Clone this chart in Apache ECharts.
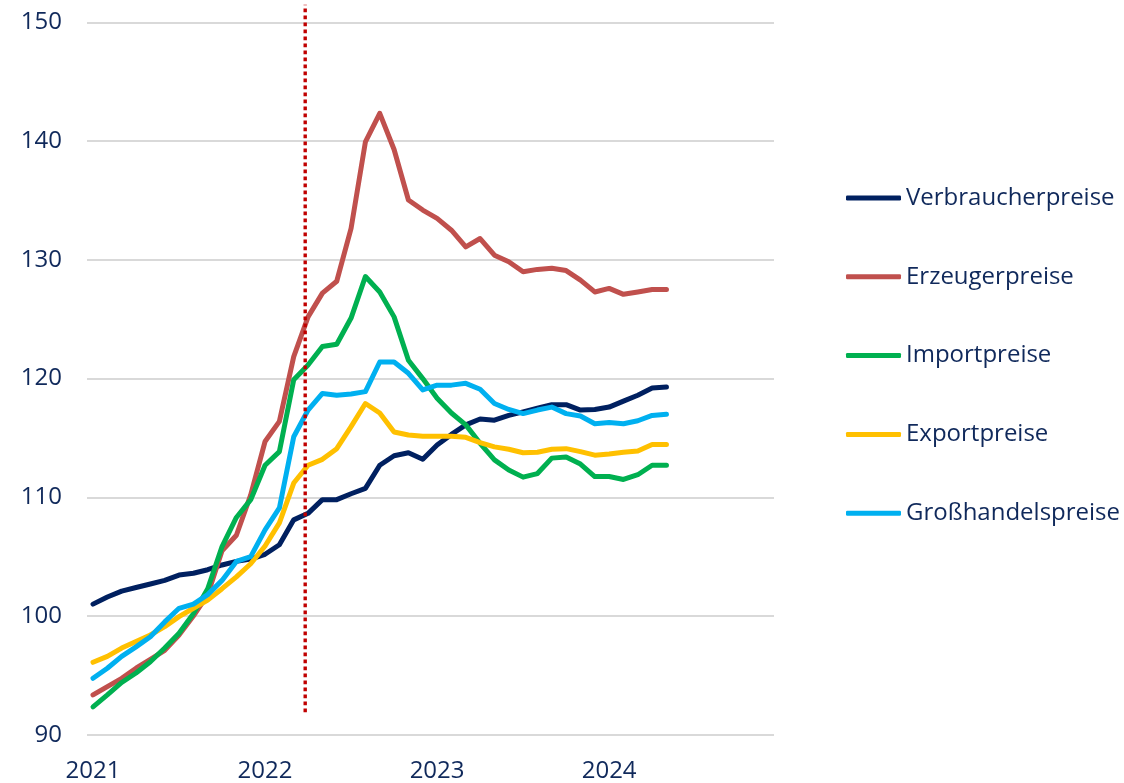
<!DOCTYPE html>
<html>
<head>
<meta charset="utf-8">
<script src="https://cdn.jsdelivr.net/npm/echarts@6/dist/echarts.min.js"></script>
<style>
html,body{margin:0;padding:0;background:#fff;}
#chart{width:1124px;height:783px;}
</style>
</head>
<body>
<div id="chart"></div>
<script>
// Monthly index values, Jan 2021 .. May 2024 (41 months)
const seriesNames = ['Verbraucherpreise','Erzeugerpreise','Importpreise','Exportpreise','Großhandelspreise'];
const verbraucher = [101.0,101.6,102.1,102.4,102.7,103.0,103.45,103.6,103.9,104.3,104.6,104.8,105.2,106.0,108.1,108.65,109.8,109.8,110.3,110.75,112.7,113.5,113.75,113.2,114.4,115.3,116.1,116.6,116.5,116.9,117.2,117.5,117.8,117.8,117.35,117.4,117.6,118.1,118.6,119.2,119.3];
const erzeuger = [93.35,94.05,94.75,95.6,96.35,97.1,98.4,100.0,101.8,105.5,106.8,110.2,114.7,116.4,121.85,125.2,127.2,128.2,132.65,139.95,142.35,139.3,135.05,134.2,133.5,132.5,131.1,131.8,130.4,129.85,129.0,129.2,129.3,129.1,128.3,127.3,127.6,127.1,127.3,127.5,127.5];
const importp = [92.35,93.35,94.4,95.2,96.15,97.3,98.55,100.2,102.3,105.85,108.3,109.8,112.7,113.85,119.9,121.15,122.7,122.9,125.1,128.6,127.3,125.2,121.55,120.0,118.35,117.1,116.1,114.55,113.15,112.3,111.7,112.0,113.3,113.4,112.8,111.75,111.75,111.5,111.9,112.7,112.7];
const exportp = [96.1,96.6,97.3,97.85,98.4,99.1,99.95,100.65,101.35,102.3,103.3,104.4,105.9,107.85,111.2,112.7,113.2,114.1,115.95,117.9,117.1,115.5,115.25,115.15,115.15,115.15,115.05,114.6,114.25,114.05,113.75,113.8,114.05,114.1,113.85,113.55,113.65,113.8,113.9,114.45,114.45];
const grosshandel = [94.75,95.6,96.6,97.4,98.25,99.5,100.65,101.0,101.8,103.0,104.6,105.0,107.25,109.1,115.1,117.35,118.75,118.6,118.7,118.9,121.4,121.4,120.45,119.05,119.45,119.45,119.6,119.1,117.9,117.4,117.05,117.35,117.6,117.05,116.85,116.2,116.3,116.2,116.45,116.9,117.0];
// Year tick labels and their month index
const yearLabels = ['2021','2022','2023','2024'];
const yearTickMonths = [0,12,24,36];
// Reference marker (month index, value range of the dotted line)
const markerMonth = 14.8;
const markerRange = [91.9, 151.5];

const colors = ['#002060','#C0504D','#00B050','#FFC000','#00B0F0'];
const allValues = [verbraucher, erzeuger, importp, exportp, grosshandel];
const textColor = '#10295B';
const fontFam = '"Open Sans", sans-serif';

const series = seriesNames.map((name, k) => ({
  name: name,
  type: 'line',
  data: allValues[k].map((v, i) => [i, v]),
  symbol: 'none',
  smooth: false,
  lineStyle: { color: colors[k], width: 5, cap: 'round', join: 'round' },
  itemStyle: { color: colors[k] },
  z: 3 + k
}));
series.push({
  name: 'marker',
  type: 'line',
  data: markerRange.map(v => [markerMonth, v]),
  symbol: 'none',
  clip: false,
  silent: true,
  lineStyle: { color: '#C00000', width: 3.4, type: [3.6, 3.4], cap: 'butt' },
  z: 10
});

const chart = echarts.init(document.getElementById('chart'), null, { renderer: 'canvas' });
chart.setOption({
  animation: false,
  backgroundColor: '#fff',
  grid: { left: 87, right: 350, top: 22.5, bottom: 48.3, containLabel: false },
  xAxis: {
    type: 'value',
    min: -0.42,
    max: 47.5,
    axisLine: { show: false },
    axisTick: { show: false },
    splitLine: { show: false },
    axisLabel: {
      customValues: yearTickMonths,
      formatter: v => yearLabels[yearTickMonths.indexOf(Math.round(v))] || '',
      color: textColor, fontSize: 24, fontFamily: fontFam, margin: 24
    }
  },
  yAxis: {
    type: 'value',
    min: 90, max: 150, interval: 10,
    axisLine: { show: false },
    axisTick: { show: false },
    splitLine: { lineStyle: { color: '#D9D9D9', width: 2 } },
    axisLabel: { color: textColor, fontSize: 24, fontFamily: fontFam, margin: 25 }
  },
  legend: {
    data: seriesNames,
    orient: 'vertical',
    left: 846,
    top: 183,
    padding: 0,
    itemWidth: 55,
    itemHeight: 5,
    itemGap: 48.8,
    icon: 'roundRect',
    textStyle: { color: textColor, fontSize: 24, fontFamily: fontFam, lineHeight: 30, padding: [0,0,0,0] }
  },
  series: series
});
</script>
</body>
</html>
